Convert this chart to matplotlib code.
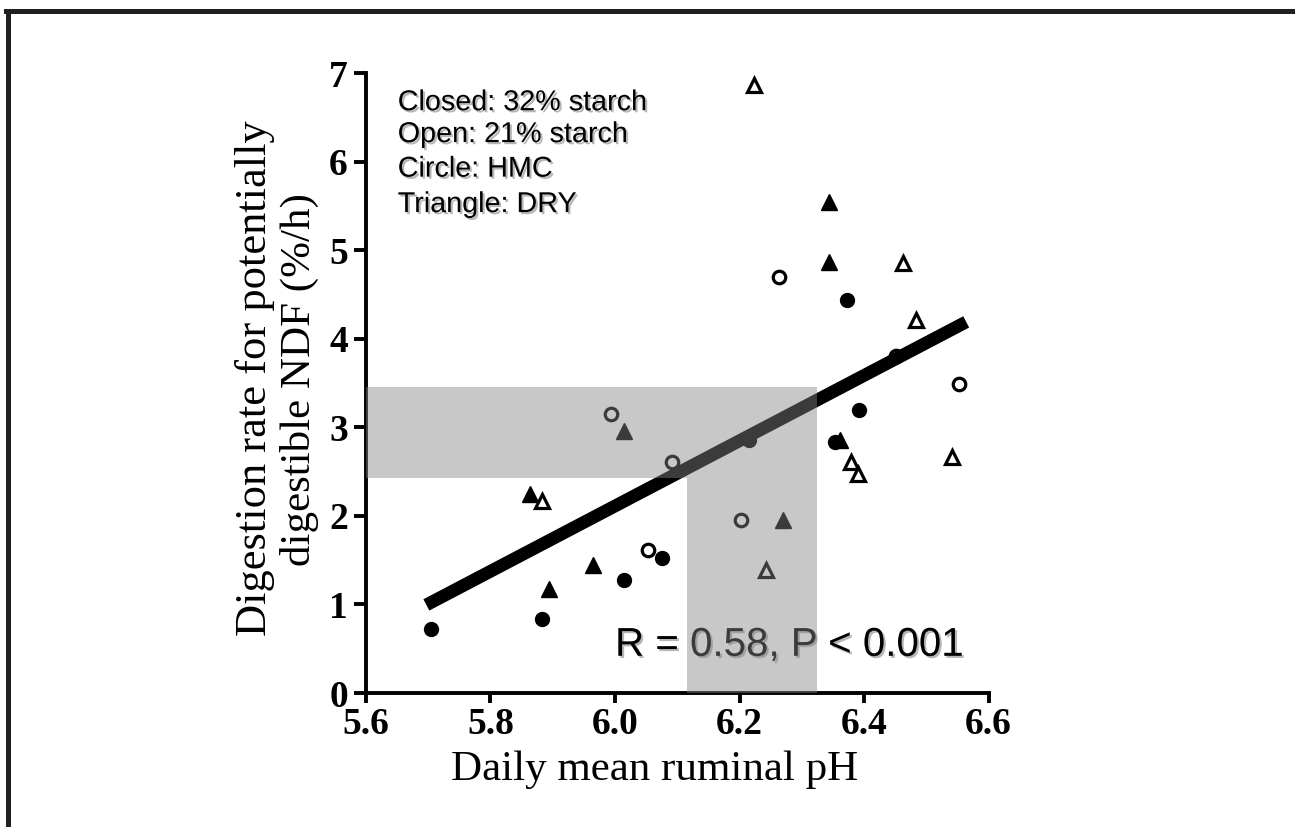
import matplotlib
matplotlib.use('Agg')
import matplotlib.pyplot as plt
import matplotlib.patheffects as pe
from matplotlib.lines import Line2D

# closed = 32% starch, open = 21% starch, circle = HMC, triangle = DRY
closed_circle_ph = [5.704, 5.883, 6.014, 6.076, 6.215, 6.353, 6.392, 6.372]
closed_circle_rate = [0.72, 0.84, 1.28, 1.53, 2.86, 2.83, 3.19, 4.44]
open_circle_ph = [5.994, 6.092, 6.053, 6.203, 6.264, 6.452, 6.552]
open_circle_rate = [3.15, 2.61, 1.61, 1.95, 4.70, 3.81, 3.49]
closed_tri_ph = [6.014, 5.864, 5.964, 5.894, 6.270, 6.362, 6.343, 6.343]
closed_tri_rate = [2.96, 2.25, 1.45, 1.17, 1.95, 2.86, 5.54, 4.87]
open_tri_ph = [5.883, 6.483, 6.379, 6.391, 6.542, 6.223, 6.463, 6.242]
open_tri_rate = [2.17, 4.21, 2.61, 2.47, 2.67, 6.86, 4.85, 1.39]

# regression line end points
fit_ph = [5.697, 6.564]
fit_rate = [0.995, 4.19]

# shaded optimum ranges
band_ph = [6.116, 6.325]
band_rate = [2.43, 3.46]

legend_lines = ['Closed: 32% starch', 'Open: 21% starch', 'Circle: HMC', 'Triangle: DRY']
x_ticks = [5.6, 5.8, 6.0, 6.2, 6.4, 6.6]
y_ticks = [0, 1, 2, 3, 4, 5, 6, 7]

serif = 'Liberation Serif'
sans = 'Liberation Sans'

fig = plt.figure(figsize=(12.95, 8.27), dpi=100)
ax = fig.add_axes([0.2826, 0.162, 0.4808, 0.7497])

# points
ax.plot(open_circle_ph, open_circle_rate, 'o', ms=9, mfc='white', mec='black', mew=2.3, zorder=2)
ax.plot(fit_ph, fit_rate, color='black', lw=9.2, solid_capstyle='butt', zorder=3)
ax.plot(closed_circle_ph, closed_circle_rate, 'o', ms=10, color='black', zorder=4)
ax.plot(closed_tri_ph, closed_tri_rate, '^', ms=11, color='black', zorder=4)
ax.plot(open_tri_ph, open_tri_rate, '^', ms=10.5, mfc='white', mec='black', mew=2.3, zorder=4)

ax.set_xlim(x_ticks[0], x_ticks[-1])
ax.set_ylim(y_ticks[0], y_ticks[-1])

# grey bands on top of everything
xmin = ax.get_xlim()[0]
ax.fill_between([xmin, band_ph[1]], band_rate[0], band_rate[1], color='#858585', alpha=0.45, lw=0, zorder=5)
ax.fill_between(band_ph, 0, band_rate[0], color='#858585', alpha=0.45, lw=0, zorder=5)

ax.set_xticks(x_ticks)
ax.set_xticklabels(['%.1f' % v for v in x_ticks])
ax.set_yticks(y_ticks)
ax.set_yticklabels([str(v) for v in y_ticks])
for lab in ax.get_xticklabels() + ax.get_yticklabels():
    lab.set_fontfamily(serif)
    lab.set_fontweight('bold')
    lab.set_fontsize(27)
ax.tick_params(axis='x', direction='out', length=7, width=2.8, pad=3)
ax.tick_params(axis='y', direction='out', length=9, width=2.8, pad=4)

for side in ['top', 'right']:
    ax.spines[side].set_visible(False)
for side in ['left', 'bottom']:
    ax.spines[side].set_linewidth(2.8)

# text with a soft drop shadow
shadow = [pe.withSimplePatchShadow(offset=(1.5, -1.5), shadow_rgbFace='#888888', alpha=0.6)]
legend_y = [6.58, 6.22, 5.83, 5.43]
for txt, yy in zip(legend_lines, legend_y):
    ax.text(5.651, yy, txt, fontsize=20.7, family=sans, va='baseline', ha='left',
            path_effects=shadow, zorder=3)
ax.text(6.0, 0.42, 'R = 0.58, P < 0.001', fontsize=29, family=sans, va='baseline', ha='left',
        path_effects=shadow, zorder=3)

# axis titles
fig.text(655 / 1295, 1 - 770 / 827, 'Daily mean ruminal pH', ha='center', va='center',
         fontsize=31, family=serif)
fig.text(255 / 1295, 1 - 378 / 827, 'Digestion rate for potentially', ha='center', va='center',
         rotation=90, fontsize=32, family=serif)
fig.text(299 / 1295, 1 - 380 / 827, 'digestible NDF (%/h)', ha='center', va='center',
         rotation=90, fontsize=31, family=serif)

# frame of the slide
fig.add_artist(Line2D([0.0046, 1.0], [0.9873, 0.9873], transform=fig.transFigure,
                      color='#231f20', lw=3.6, solid_capstyle='projecting'))
fig.add_artist(Line2D([0.00656, 0.00656], [0.0, 0.9873], transform=fig.transFigure,
                      color='#231f20', lw=3.6, solid_capstyle='projecting'))

plt.savefig('out.png', dpi=100)
